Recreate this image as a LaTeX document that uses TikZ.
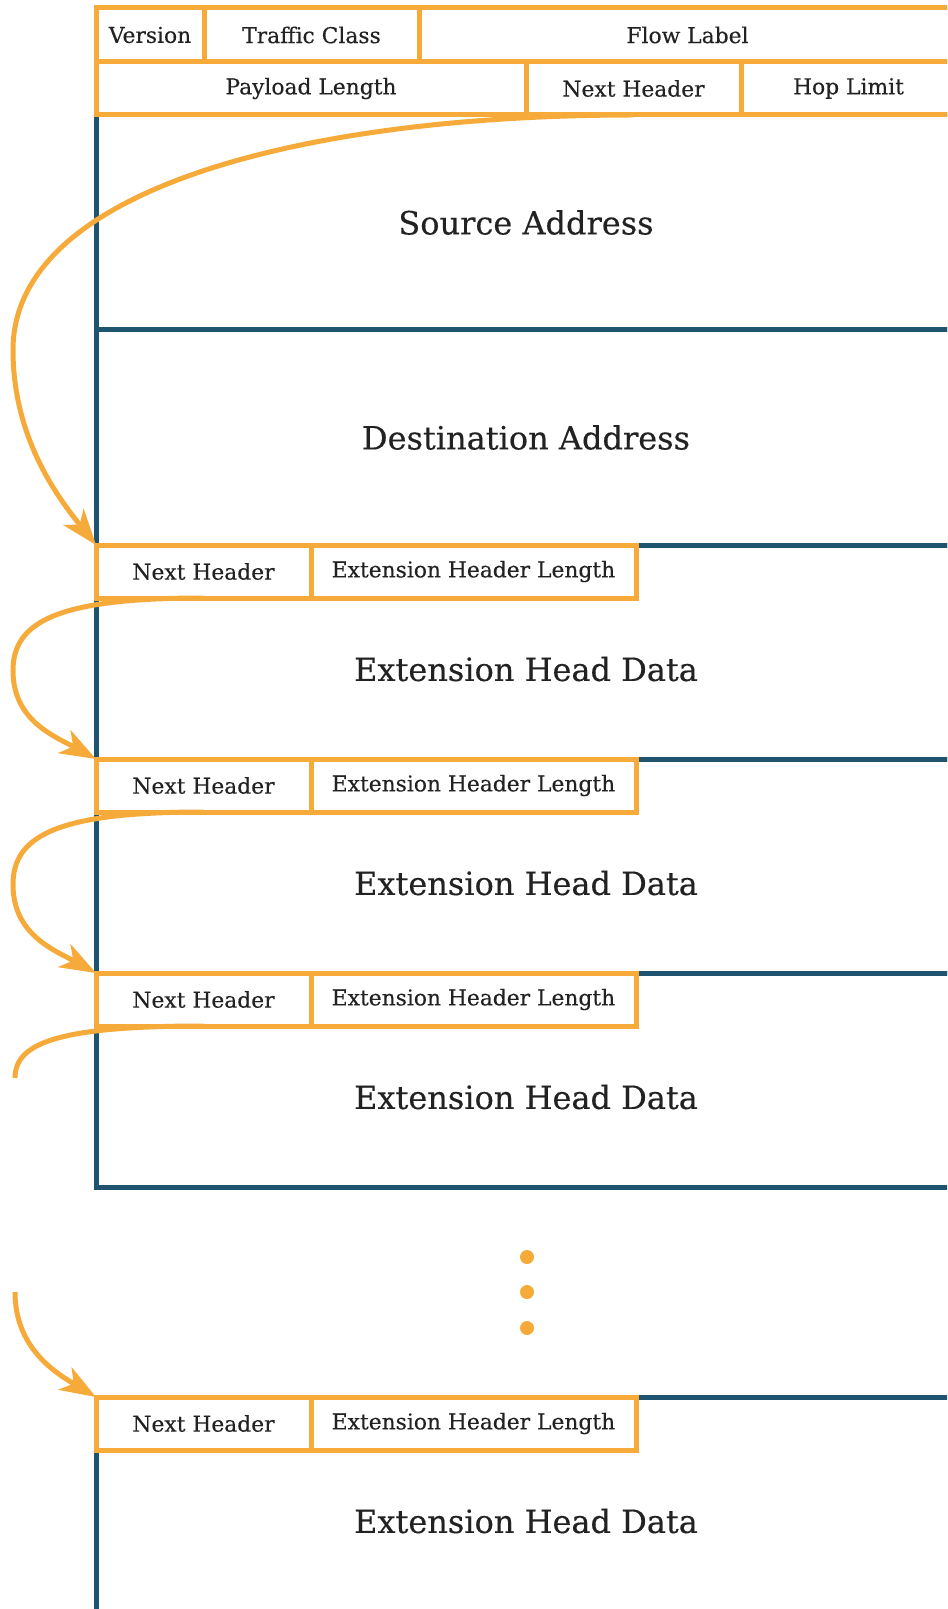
\documentclass[tikz,border=0pt]{standalone}
\usepackage{fontspec}
\setmainfont[FakeBold=0.3]{DejaVu Serif}
\usetikzlibrary{arrows.meta,calc,positioning}
\definecolor{hdrorange}{HTML}{F5AA3A}
\definecolor{hdrblue}{HTML}{1E5470}
\definecolor{ink}{HTML}{222222}
\tikzset{fld/.style={draw=hdrorange, line width=2.5pt, fill=white, inner sep=0pt, outer sep=0pt,
    minimum height=26.5pt, font=\fontsize{10.9}{12}\selectfont, text=ink},
  blk/.style={draw=hdrblue, line width=2.5pt, inner sep=0pt, outer sep=0pt, minimum width=430pt},
  big/.style={font=\fontsize{16}{18}\selectfont, text=ink},
  hop/.style={draw=hdrorange, line width=2.5pt, -{Stealth[length=18pt, width=13pt, inset=5pt]}}}

\begin{document}
\begin{tikzpicture}[x=0.5pt, y=-0.5pt, node distance=0pt]
  \useasboundingbox (0,0) rectangle (947,1609);
  \clip (0,0) rectangle (947,1609);
  % address blocks
  \node[blk, minimum height=107.5pt, anchor=north west] (src) at (96,115) {};
  \node[blk, minimum height=107.5pt, below=of src] (dst) {};
  \node[big] (srct) at (src) {Source Address};
  \node[big] (dstt) at (dst) {Destination Address};
  % extension blocks
  \node[blk, minimum height=107pt, below=of dst] (xb1) {};
  \node[blk, minimum height=107pt, below=of xb1] (xb2) {};
  \node[blk, minimum height=107pt, below=of xb2] (xb3) {};
  \node[blk, minimum height=110pt, anchor=north west] (xb4) at (96,1397) {};
  % fixed header rows
  \node[fld, minimum width=54pt, minimum height=27pt, anchor=north west] (ver) at (96,8) {Version};
  \node[fld, minimum width=107.5pt, minimum height=27pt, right=of ver] (tc) {Traffic Class};
  \node[fld, minimum width=268.5pt, minimum height=27pt, right=of tc] (fl) {Flow Label};
  \node[fld, minimum width=215pt, anchor=north west] (pl) at (ver.south west) {Payload Length};
  \node[fld, minimum width=107.5pt, right=of pl] (nh) {Next Header};
  \node[fld, minimum width=107.5pt, right=of nh] (hl) {Hop Limit};
  \foreach \b in {1,2,3,4}{
    \node[fld, minimum width=107.5pt, anchor=north west] (nh\b) at (xb\b.north west) {Next Header};
    \node[fld, minimum width=162.5pt, right=of nh\b] (len\b) {Extension Header Length};
    \node[big] (xd\b) at ([yshift=-62pt]xb\b.north) {Extension Head Data};
  }
  % dots
  \foreach \y in {1257,1292,1328} \fill[hdrorange] (527,\y) circle (3.5pt);
  % next header chain
  \coordinate (bend1) at (13,350);
  \draw[hop] (nh.south) .. controls (300,115) and (13,190) .. (bend1)
    .. controls (13,440) and (60,500) .. (nh1.north west);
  \foreach \a/\b in {1/2, 2/3}{
    \coordinate (bend\b) at ($(nh\a.south west)!0.45!(nh\b.north west)+(-83,0)$);
    \draw[hop] (nh\a.south) .. controls +(-143,0) and +(0,-50) .. (bend\b)
      .. controls +(0,50) and +(-42,-23) .. (nh\b.north west);
  }
  \coordinate (cut1) at (15,1078);
  \coordinate (cut2) at (15,1292);
  \draw[hop, -] (nh3.south) .. controls +(-145,0) and +(0,-35) .. (cut1);
  \draw[hop] (cut2) .. controls +(0,55) and +(-42,-25) .. (nh4.north west);
\end{tikzpicture}
\end{document}
